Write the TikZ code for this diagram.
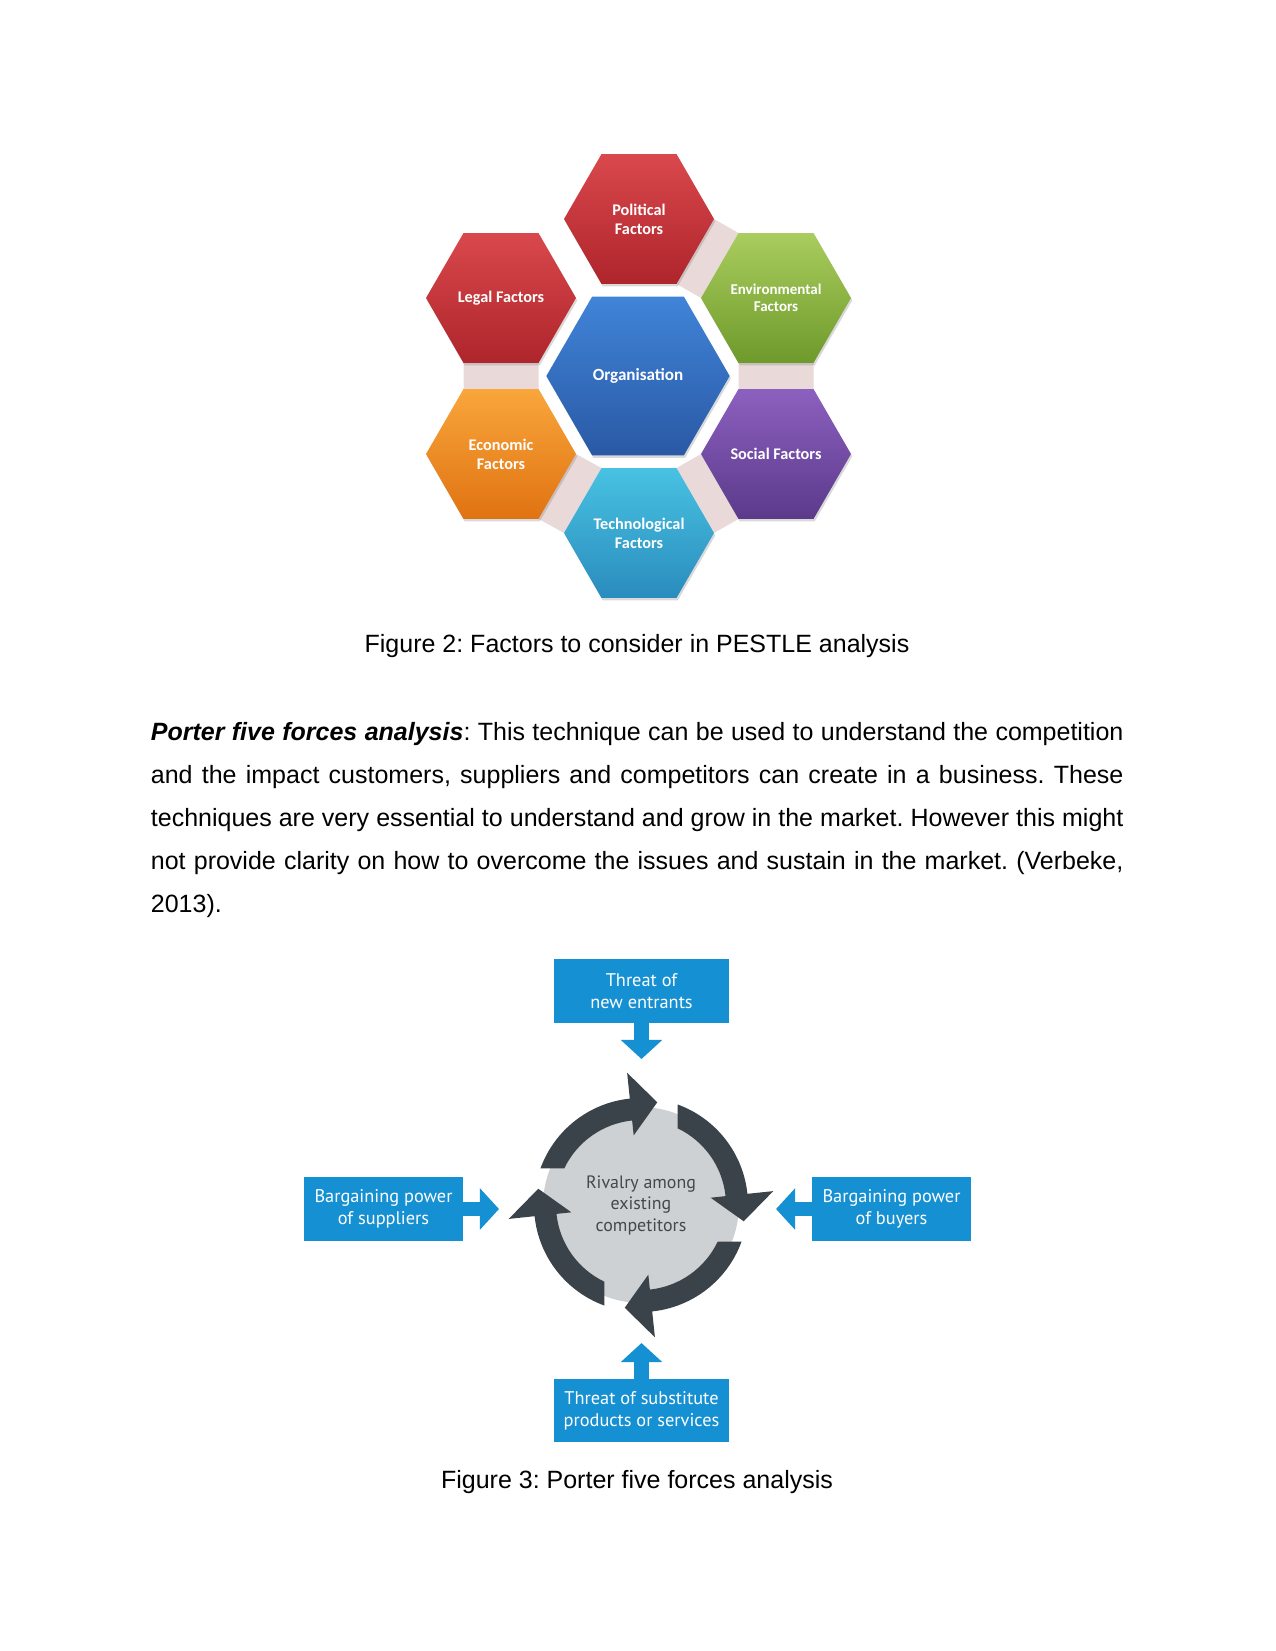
\documentclass[tikz,border=0pt]{standalone}
\usepackage{fontspec}
\setmainfont{Liberation Sans}
\newfontfamily\hexfont{Carlito}
\newfontfamily\forcefont{PT Sans}
\usetikzlibrary{arrows.meta, shapes.geometric, shadows, backgrounds, positioning}
\definecolor{redTop}{HTML}{D9484C}
\definecolor{redBot}{HTML}{AE252B}
\definecolor{greenTop}{HTML}{A9CD5E}
\definecolor{greenBot}{HTML}{6E9A2B}
\definecolor{blueTop}{HTML}{4084D8}
\definecolor{blueBot}{HTML}{2A59A5}
\definecolor{orangeTop}{HTML}{F9A63C}
\definecolor{orangeBot}{HTML}{E07311}
\definecolor{purpleTop}{HTML}{8C60BF}
\definecolor{purpleBot}{HTML}{5B3A8B}
\definecolor{cyanTop}{HTML}{48C2E2}
\definecolor{cyanBot}{HTML}{2A8CBD}
\definecolor{bandPink}{HTML}{EAD9D9}
\definecolor{forceBlue}{HTML}{1590D2}
\definecolor{ringDark}{HTML}{3B434A}
\definecolor{discGrey}{HTML}{CED1D3}
\definecolor{rivalInk}{HTML}{43484D}

\tikzset{
  hexa/.style={regular polygon, regular polygon sides=6, inner sep=0pt, outer sep=0pt,
    minimum size=72pt, align=center, text=white,
    font=\hexfont\bfseries\fontsize{7.8}{9.2}\selectfont,
    drop shadow={opacity=0.3, shadow xshift=0.6pt, shadow yshift=-1.2pt}},
  forcebox/.style={fill=forceBlue, text=white, align=center, inner sep=0pt,
    minimum width=84pt, minimum height=30.3pt, font=\forcefont\fontsize{8.8}{10.6}\selectfont},
  forcearrow/.style={forceBlue, line width=7pt, -{Triangle[width=19.5pt, length=9.2pt]}},
  bodytext/.style={inner sep=0pt, font=\fontsize{12}{14}\selectfont}
}

\begin{document}
\frenchspacing
\begin{tikzpicture}[x=0.48pt, y=-0.48pt]
  \useasboundingbox (0,0) rectangle (1275,1651);

  % PESTLE hexagons
  \node[hexa, top color=redTop, bottom color=redBot] (pol) at (639,219) {Political\\Factors};
  \node[hexa, top color=redTop, bottom color=redBot] (leg) at (501,298) {Legal Factors};
  \node[hexa, top color=greenTop, bottom color=greenBot,
    font=\hexfont\bfseries\fontsize{7.2}{8.2}\selectfont] (env) at (776,298) {Environmental\\Factors};
  \node[hexa, top color=blueTop, bottom color=blueBot, minimum size=88pt,
    font=\hexfont\bfseries\fontsize{8.2}{9.5}\selectfont] (org) at (638,376) {Organisation};
  \node[hexa, top color=orangeTop, bottom color=orangeBot] (eco) at (501,454) {Economic\\Factors};
  \node[hexa, top color=purpleTop, bottom color=purpleBot] (soc) at (776,454) {Social Factors};
  \node[hexa, top color=cyanTop, bottom color=cyanBot] (tec) at (639,533) {Technological\\Factors};

  \begin{scope}[on background layer]
    \fill[bandPink] (pol.0) -- (env.120) -- (env.180) -- (pol.-60) -- cycle;
    \fill[bandPink] (env.-120) -- (env.-60) -- (soc.60) -- (soc.120) -- cycle;
    \fill[bandPink] (soc.180) -- (soc.-120) -- (tec.0) -- (tec.60) -- cycle;
    \fill[bandPink] (eco.0) -- (eco.-60) -- (tec.180) -- (tec.120) -- cycle;
    \fill[bandPink] (leg.-120) -- (leg.-60) -- (eco.60) -- (eco.120) -- cycle;
  \end{scope}

  \node[bodytext, anchor=base] (capPestle) at (637,652) {Figure 2: Factors to consider in PESTLE analysis};

  \foreach \row [count=\i from 0] in {
      {\textbf{\textit{Porter five forces analysis}}: This technique can be used to understand the competition},
      {and the impact customers, suppliers and competitors can create in a business. These},
      {techniques are very essential to understand and grow in the market. However this might},
      {not provide clarity on how to overcome the issues and sustain in the market. (Verbeke,}} {
    \node[bodytext, anchor=base west] (para\i) at (150.5,740+43*\i) {\makebox[466.8pt][s]{\row}};
  }
  \node[bodytext, anchor=base west] (paraEnd) at (150.5,912) {2013).};

  % Porter five forces
  \node[forcebox] (newent) at (641.5,991) {Threat of\\new entrants};
  \node[forcebox, minimum width=76.3pt] (supp) at (383.5,1209) {Bargaining power\\of suppliers};
  \node[forcebox, minimum width=76.3pt] (buy) at (891.5,1209) {Bargaining power\\of buyers};
  \node[forcebox] (subst) at (641.5,1410.5) {Threat of substitute\\products or services};

  \coordinate (tipTop) at (641.5,1059);
  \coordinate (tipLeft) at (499,1209);
  \coordinate (tipRight) at (776,1209);
  \coordinate (tipBottom) at (641.5,1343);
  \draw[forcearrow] (newent.south) -- (tipTop);
  \draw[forcearrow] (supp.east) -- (tipLeft);
  \draw[forcearrow] (buy.west) -- (tipRight);
  \draw[forcearrow] (subst.north) -- (tipBottom);

  \node[circle, fill=discGrey, minimum size=94pt, inner sep=0pt, align=center, text=rivalInk,
    font=\forcefont\fontsize{8.6}{10.3}\selectfont] (rival) at (641,1205) {Rivalry among\\existing\\competitors};
  \foreach \k in {0,...,3}
    \fill[ringDark, x=0.48pt, y=0.48pt, shift={(rival.center)}, rotate=-90*\k]
      (160:107) arc[start angle=160, end angle=96, radius=107] -- (96:133) -- (81:104)
      -- (96:70) -- (96:85) arc[start angle=96, end angle=154.5, radius=85] -- cycle;

  \node[bodytext, anchor=base] (capPorter) at (637,1488) {Figure 3: Porter five forces analysis};
\end{tikzpicture}
\end{document}
